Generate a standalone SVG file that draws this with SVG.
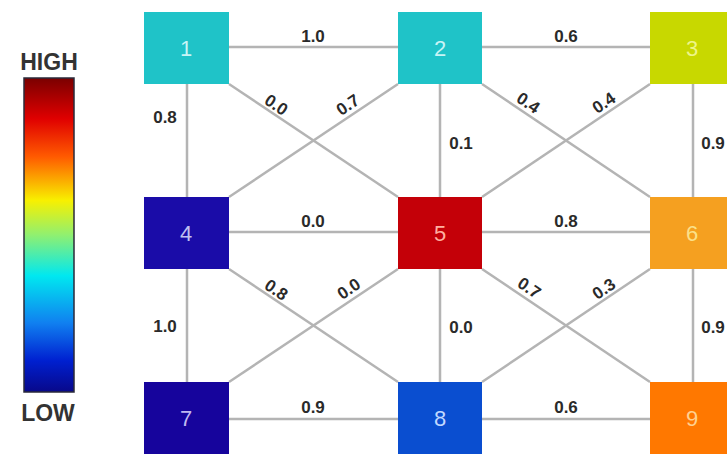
<svg xmlns="http://www.w3.org/2000/svg" width="727" height="455" viewBox="0 0 727 455">
<style>
.ln{stroke:#b4b4b4;stroke-width:2.5;fill:none}
.nd text{font-family:"Liberation Sans",Arial,sans-serif;font-size:22px;text-anchor:middle;dominant-baseline:central}
.lb{font-family:"Liberation Sans",Arial,sans-serif;font-size:17px;font-weight:bold;fill:#2a2a2a;text-anchor:middle;dominant-baseline:central}
.leg{font-family:"Liberation Sans",Arial,sans-serif;font-size:23px;font-weight:bold;fill:#333;text-anchor:middle}
</style>
<defs>
<linearGradient id="jet" x1="0" y1="0" x2="0" y2="1">
<stop offset="0" stop-color="#7a0000"/>
<stop offset="0.13" stop-color="#e00000"/>
<stop offset="0.25" stop-color="#ff5a00"/>
<stop offset="0.39" stop-color="#f8f000"/>
<stop offset="0.5" stop-color="#90f070"/>
<stop offset="0.63" stop-color="#00e8f0"/>
<stop offset="0.78" stop-color="#1080f0"/>
<stop offset="0.9" stop-color="#0020d0"/>
<stop offset="1" stop-color="#08088a"/>
</linearGradient>
</defs>
<rect width="727" height="455" fill="#ffffff"/>
<g id="legend">
<text class="leg" x="49" y="70">HIGH</text>
<rect x="24" y="78" width="50" height="314" fill="url(#jet)" stroke="#2a2a3a" stroke-width="1.5"/>
<text class="leg" x="48" y="421">LOW</text>
</g>
<g id="connectors">
<line class="ln" x1="186" y1="47" x2="440" y2="47"/>
<line class="ln" x1="440" y1="47" x2="692" y2="47"/>
<line class="ln" x1="186" y1="232" x2="440" y2="232"/>
<line class="ln" x1="440" y1="232" x2="692" y2="232"/>
<line class="ln" x1="186" y1="419" x2="440" y2="419"/>
<line class="ln" x1="440" y1="419" x2="692" y2="419"/>
<line class="ln" x1="187" y1="47" x2="187" y2="419"/>
<line class="ln" x1="440" y1="47" x2="440" y2="419"/>
<line class="ln" x1="693" y1="47" x2="693" y2="419"/>
<line class="ln" x1="229" y1="84" x2="398" y2="197"/>
<line class="ln" x1="398" y1="84" x2="229" y2="197"/>
<line class="ln" x1="482" y1="84" x2="650" y2="197"/>
<line class="ln" x1="650" y1="84" x2="482" y2="197"/>
<line class="ln" x1="229" y1="269" x2="398" y2="382"/>
<line class="ln" x1="398" y1="269" x2="229" y2="382"/>
<line class="ln" x1="482" y1="269" x2="650" y2="382"/>
<line class="ln" x1="650" y1="269" x2="482" y2="382"/>
</g>
<g id="labels">
<text class="lb" x="313" y="36">1.0</text>
<text class="lb" x="566" y="36">0.6</text>
<text class="lb" x="313" y="221">0.0</text>
<text class="lb" x="566" y="221">0.8</text>
<text class="lb" x="313" y="407">0.9</text>
<text class="lb" x="566" y="407">0.6</text>
<text class="lb" x="165" y="117">0.8</text>
<text class="lb" x="461" y="143">0.1</text>
<text class="lb" x="713" y="143">0.9</text>
<text class="lb" x="165" y="326">1.0</text>
<text class="lb" x="461" y="327">0.0</text>
<text class="lb" x="713" y="327">0.9</text>
<text class="lb" transform="translate(276,105) rotate(34)">0.0</text>
<text class="lb" transform="translate(348,105) rotate(-34)">0.7</text>
<text class="lb" transform="translate(528,103) rotate(34)">0.4</text>
<text class="lb" transform="translate(604,103) rotate(-34)">0.4</text>
<text class="lb" transform="translate(276,290) rotate(34)">0.8</text>
<text class="lb" transform="translate(349,289) rotate(-34)">0.0</text>
<text class="lb" transform="translate(529,288) rotate(34)">0.7</text>
<text class="lb" transform="translate(604,289) rotate(-34)">0.3</text>
</g>
<g id="node1" class="nd"><rect x="144" y="12" width="85" height="72" fill="#1fc3c8"/><text x="186" y="48" fill="#c8f4f6">1</text></g>
<g id="node2" class="nd"><rect x="398" y="12" width="84" height="72" fill="#1fc3c8"/><text x="440" y="48" fill="#c8f4f6">2</text></g>
<g id="node3" class="nd"><rect x="650" y="12" width="85" height="72" fill="#c8d800"/><text x="692" y="48" fill="#eef58a">3</text></g>
<g id="node4" class="nd"><rect x="144" y="197" width="85" height="72" fill="#1a0ca8"/><text x="186" y="233" fill="#c0c0f0">4</text></g>
<g id="node5" class="nd"><rect x="398" y="197" width="84" height="72" fill="#c40008"/><text x="440" y="233" fill="#ffb0a0">5</text></g>
<g id="node6" class="nd"><rect x="650" y="197" width="85" height="72" fill="#f5a020"/><text x="692" y="233" fill="#fbe08a">6</text></g>
<g id="node7" class="nd"><rect x="144" y="382" width="85" height="72" fill="#16049c"/><text x="186" y="418" fill="#c0b8f0">7</text></g>
<g id="node8" class="nd"><rect x="398" y="382" width="84" height="72" fill="#0a4ed0"/><text x="440" y="418" fill="#c0d8ff">8</text></g>
<g id="node9" class="nd"><rect x="650" y="382" width="85" height="72" fill="#ff7800"/><text x="692" y="418" fill="#ffd090">9</text></g>
</svg>
